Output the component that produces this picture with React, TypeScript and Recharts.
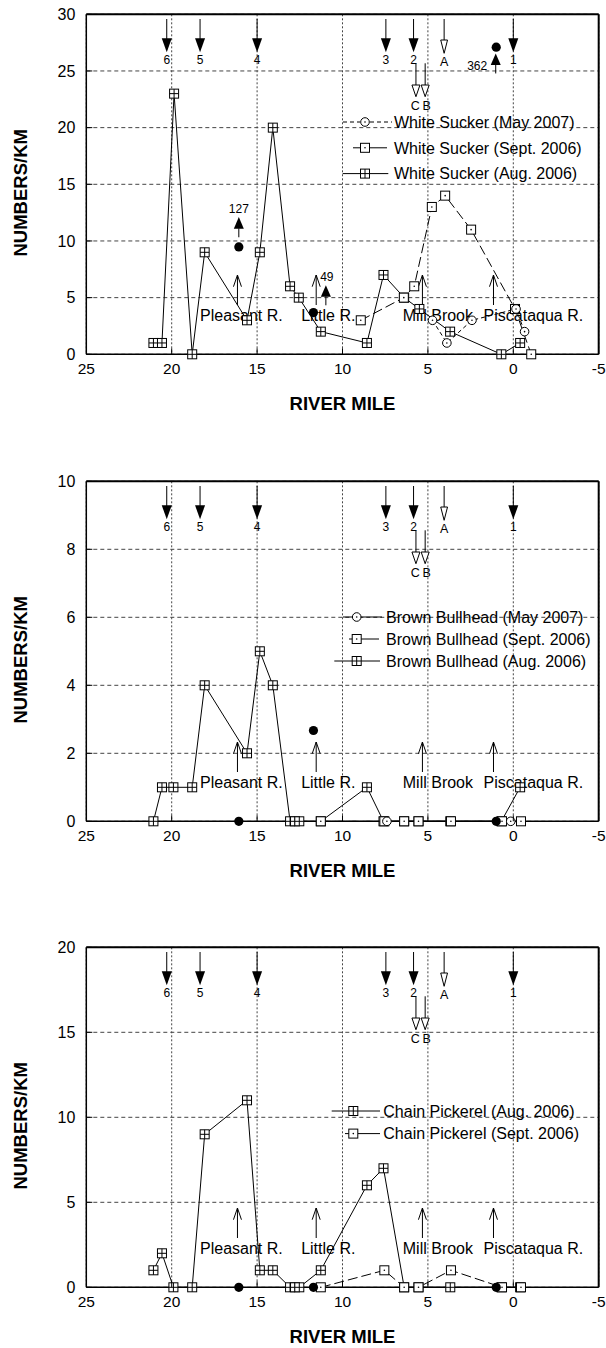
import React from 'react';
import {
  ComposedChart,
  Line,
  XAxis,
  YAxis,
  CartesianGrid,
  ReferenceDot,
  ReferenceLine,
  Legend,
} from 'recharts';

const FONT = 'Arial, "Liberation Sans", Helvetica, sans-serif';

// ---------------- DATA ----------------
const mileTicks = [25, 20, 15, 10, 5, 0, -5];
const yTicksWS = [0, 5, 10, 15, 20, 25, 30];
const yTicksBB = [0, 2, 4, 6, 8, 10];
const yTicksCP = [0, 5, 10, 15, 20];

// White Sucker
const wsAugMiles = [21.07, 20.57, 19.86, 18.8, 18.07, 15.59, 14.84, 14.08, 13.07, 12.56, 11.27, 8.57, 7.6, 6.39, 5.5, 3.7, 0.7, -0.4];
const wsAug = [1, 1, 23, 0, 9, 3, 9, 20, 6, 5, 2, 1, 7, 5, 4, 2, 0, 1];
const wsSeptMiles = [8.93, 6.41, 5.8, 4.77, 3.99, 2.47, -0.1, -1.05];
const wsSept = [3, 5, 6, 13, 14, 11, 4, 0];
const wsMayMiles = [4.73, 3.89, 2.42, -0.16, -0.66];
const wsMay = [3, 1, 3, 4, 2];

// Brown Bullhead / Chain Pickerel (August sites)
const augMiles = [21.07, 20.57, 19.9, 18.8, 18.07, 15.59, 14.84, 14.08, 13.07, 12.78, 12.53, 11.27, 8.57, 7.6, 6.39, 5.55, 3.69, 0.7, -0.4];
const bbAug = [0, 1, 1, 1, 4, 2, 5, 4, 0, 0, 0, 0, 1, 0, 0, 0, 0, 0, 1];
const cpAug = [1, 2, 0, 0, 9, 11, 1, 1, 0, 0, 0, 1, 6, 7, 0, 0, 0, 0, 0];
const septMiles = [11.27, 7.55, 6.39, 5.55, 3.65, 0.66, -0.45];
const bbSept = [0, 0, 0, 0, 0, 0, 0];
const cpSept = [0, 1, 0, 0, 1, 0, 0];
const bbMayMiles = [7.4, 0.15];
const bbMay = [0, 0];

// filled symbols (off-survey counts)
const extraMiles = [16.07, 11.7, 1.0];
const wsExtra = [9.47, 3.68, 27.1];
const bbExtra = [0, 2.67, 0];
const cpExtra = [0, 0, 0];
const wsOffscale = ['127', '49', '362'];

// sites / tributaries
const stationLabels = ['6', '5', '4', '3', '2', '1'];
const stationMiles = [20.29, 18.34, 15.0, 7.46, 5.84, 0.0];
const openStationLabels = ['A', 'C', 'B'];
const openStationMiles = [4.05, 5.7, 5.16];
const tribNames = ['Pleasant R.', 'Little R.', 'Mill Brook', 'Piscataqua R.'];
const tribMiles = [16.15, 11.54, 5.32, 1.16];
const tribTextMiles = [18.34, 12.42, 6.47, 1.74];

// ---------------- helpers ----------------
const toPts = (ms: number[], vs: number[]) => ms.map((m, i) => ({ m, v: vs[i] }));

const gridSq = (cx: number, cy: number, k?: any) => {
  const s = 4.5;
  return (
    <g key={k}>
      <rect x={cx - s} y={cy - s} width={2 * s} height={2 * s} fill="#fff" stroke="#000" strokeWidth={1} />
      <line x1={cx} y1={cy - s} x2={cx} y2={cy + s} stroke="#000" strokeWidth={1} />
      <line x1={cx - s} y1={cy} x2={cx + s} y2={cy} stroke="#000" strokeWidth={1} />
    </g>
  );
};
const dotSq = (cx: number, cy: number, k?: any) => {
  const s = 4.5;
  return (
    <g key={k}>
      <rect x={cx - s} y={cy - s} width={2 * s} height={2 * s} fill="#fff" stroke="#000" strokeWidth={1} />
      <circle cx={cx} cy={cy} r={0.8} fill="#000" />
    </g>
  );
};
const dotCirc = (cx: number, cy: number, k?: any) => (
  <g key={k}>
    <circle cx={cx} cy={cy} r={4.3} fill="#fff" stroke="#000" strokeWidth={1} />
    <circle cx={cx} cy={cy} r={0.8} fill="#000" />
  </g>
);
const filledCirc = (cx: number, cy: number, k?: any) => (
  <circle key={k} cx={cx} cy={cy} r={4.6} fill="#000" />
);

const markerFns: Record<string, any> = { aug: gridSq, sept: dotSq, may: dotCirc, extra: filledCirc };
const makeDot = (kind: string) => (p: any) => {
  const { cx, cy, index } = p;
  if (cx == null || cy == null || isNaN(cx) || isNaN(cy)) return <g key={`n${index}`} />;
  return markerFns[kind](cx, cy, `${kind}${index}`);
};

const LeftTick = (p: any) => {
  const { x, y, payload } = p;
  return (
    <g>
      <line x1={x} y1={y} x2={x + 6} y2={y} stroke="#000" strokeWidth={1} />
      <text x={x - 11} y={y + 5.7} textAnchor="end" fontSize={16} fontFamily={FONT} fill="#000">
        {payload.value}
      </text>
    </g>
  );
};
const RightTick = (p: any) => {
  const { x, y } = p;
  return <line x1={x - 6} y1={y} x2={x} y2={y} stroke="#000" strokeWidth={1} />;
};
const XTick = (p: any) => {
  const { x, y, payload } = p;
  const v = payload.value;
  return (
    <g>
      {v !== 25 && v !== -5 && <line x1={x} y1={y} x2={x} y2={y - 6} stroke="#000" strokeWidth={1} />}
      <text x={x} y={y + 19.8} textAnchor="middle" fontSize={15.5} fontFamily={FONT} fill="#000">
        {String(v)}
      </text>
    </g>
  );
};
const XLabel = (p: any) => {
  const vb = p.viewBox || {};
  return (
    <text x={vb.x + vb.width / 2} y={vb.y + 56} textAnchor="middle" fontSize={18.5} fontWeight="bold" fontFamily={FONT} fill="#000">
      RIVER MILE
    </text>
  );
};
const YLabel = (p: any) => {
  const vb = p.viewBox || {};
  const cx = vb.x + 26.6;
  const cy = vb.y + vb.height / 2 + 8.5;
  return (
    <text x={cx} y={cy} transform={`rotate(-90, ${cx}, ${cy})`} textAnchor="middle" fontSize={18.5} fontWeight="bold" fontFamily={FONT} fill="#000">
      NUMBERS/KM
    </text>
  );
};

// station arrows (drawn from plot top)
const StationShape = (label: string) => (p: any) => {
  const { cx, cy } = p;
  return (
    <g>
      <line x1={cx} y1={cy + 4.7} x2={cx} y2={cy + 25} stroke="#000" strokeWidth={1} />
      <polygon points={`${cx - 5},${cy + 24} ${cx + 5},${cy + 24} ${cx},${cy + 38}`} fill="#000" />
      <text x={cx} y={cy + 50} textAnchor="middle" fontSize={12} fontFamily={FONT} fill="#000">{label}</text>
    </g>
  );
};
const OpenStationShape = (label: string, row: number) => (p: any) => {
  const { cx, cy } = p;
  const t0 = row === 0 ? 4.7 : 49;
  const t1 = row === 0 ? 25.7 : 70.7;
  const t2 = row === 0 ? 39 : 82.4;
  const w = row === 0 ? 3.4 : 4;
  const ly = row === 0 ? 51.6 : 96;
  const lx = label === 'B' ? cx + 1.5 : label === 'C' ? cx - 0.7 : cx;
  return (
    <g>
      <line x1={cx} y1={cy + t0} x2={cx} y2={cy + t1} stroke="#000" strokeWidth={1} />
      <polygon points={`${cx - w},${cy + t1} ${cx + w},${cy + t1} ${cx},${cy + t2}`} fill="#fff" stroke="#000" strokeWidth={1} />
      <text x={lx} y={cy + ly} textAnchor="middle" fontSize={12.5} fontFamily={FONT} fill="#000">{label}</text>
    </g>
  );
};
const TribArrowShape = (p: any) => {
  const { cx, cy } = p;
  return (
    <g>
      <line x1={cx} y1={cy - 49.3} x2={cx} y2={cy - 79.3} stroke="#000" strokeWidth={1} />
      <polyline points={`${cx - 4},${cy - 67.6} ${cx},${cy - 79.3} ${cx + 4},${cy - 67.6}`} fill="none" stroke="#000" strokeWidth={1} />
    </g>
  );
};
const TribTextShape = (name: string) => (p: any) => {
  const { cx, cy } = p;
  return (
    <text x={cx} y={cy - 33} textAnchor="start" fontSize={16} fontFamily={FONT} fill="#000">{name}</text>
  );
};
const upArrow = (bx: number, by: number, tipDy: number) => (
  <g>
    <line x1={bx} y1={by} x2={bx} y2={by - 9} stroke="#000" strokeWidth={1} />
    <polygon points={`${bx - 5},${by - 8.5} ${bx + 5},${by - 8.5} ${bx},${by - tipDy}`} fill="#000" />
  </g>
);
const FlagShape = (text: string, i: number) => (p: any) => {
  const { cx, cy } = p;
  if (i === 0) {
    return (
      <g>
        {upArrow(cx, cy - 9.7, 20.3)}
        <text x={cx} y={cy - 34.1} textAnchor="middle" fontSize={12} fontFamily={FONT} fill="#000">{text}</text>
      </g>
    );
  }
  if (i === 1) {
    return (
      <g>
        {upArrow(cx + 12.4, cy - 7.3, 20)}
        <text x={cx + 13.4} y={cy - 31.3} textAnchor="middle" fontSize={12} fontFamily={FONT} fill="#000">{text}</text>
      </g>
    );
  }
  return (
    <g>
      {upArrow(cx - 0.5, cy + 26.3, 20)}
      <text x={cx - 9} y={cy + 22.6} textAnchor="end" fontSize={12} fontFamily={FONT} fill="#000">{text}</text>
    </g>
  );
};

// ---------------- legend ----------------
type LegendRow = { label: string; kind: string; segs: number[][]; dash?: string };
type LegendCfg = { rows: LegendRow[]; firstY: number; spacing: number; markerX: number; textX: number };

const LegendBox = ({ cfg, ox, oy }: { cfg: LegendCfg; ox: number; oy: number }) => {
  const h = cfg.rows.length * cfg.spacing + 30;
  return (
    <svg width={606 - ox} height={h} style={{ display: 'block', overflow: 'visible' }}>
      {cfg.rows.map((r, i) => {
        const cy = cfg.firstY + i * cfg.spacing - oy;
        return (
          <g key={i}>
            {r.segs.map((s, j) => (
              <line key={j} x1={s[0] - ox} y1={cy} x2={s[1] - ox} y2={cy} stroke="#000" strokeWidth={1} strokeDasharray={r.dash} />
            ))}
            {markerFns[r.kind](cfg.markerX - ox, cy, `lm${i}`)}
            <text x={cfg.textX - ox} y={cy + 5.7} fontSize={16} fontFamily={FONT} fill="#000">{r.label}</text>
          </g>
        );
      })}
    </svg>
  );
};

// ---------------- panels ----------------
type Series = { kind: string; pts: { m: number; v: number }[]; dash?: string };
type PanelCfg = {
  yMax: number;
  yTicks: number[];
  series: Series[];
  extras: { m: number; v: number }[];
  flags: boolean;
  legend: LegendCfg;
};

const panels: PanelCfg[] = [
  {
    yMax: 30,
    yTicks: yTicksWS,
    series: [
      { kind: 'aug', pts: toPts(wsAugMiles, wsAug) },
      { kind: 'sept', pts: toPts(wsSeptMiles, wsSept), dash: '10 4' },
      { kind: 'may', pts: toPts(wsMayMiles, wsMay), dash: '4 3' },
    ],
    extras: toPts(extraMiles, wsExtra),
    flags: true,
    legend: {
      firstY: 121.7,
      spacing: 25.8,
      markerX: 365,
      textX: 394,
      rows: [
        { label: 'White Sucker (May 2007)', kind: 'may', segs: [[343, 360], [370, 392]], dash: '4 3' },
        { label: 'White Sucker (Sept. 2006)', kind: 'sept', segs: [[353, 361], [370, 387]] },
        { label: 'White Sucker (Aug. 2006)', kind: 'aug', segs: [[342.7, 388.3]] },
      ],
    },
  },
  {
    yMax: 10,
    yTicks: yTicksBB,
    series: [
      { kind: 'aug', pts: toPts(augMiles, bbAug) },
      { kind: 'sept', pts: toPts(septMiles, bbSept), dash: '10 4' },
      { kind: 'may', pts: toPts(bbMayMiles, bbMay) },
    ],
    extras: toPts(extraMiles, bbExtra),
    flags: false,
    legend: {
      firstY: 150,
      spacing: 22,
      markerX: 356.7,
      textX: 386,
      rows: [
        { label: 'Brown Bullhead (May 2007)', kind: 'may', segs: [[343, 382]] },
        { label: 'Brown Bullhead (Sept. 2006)', kind: 'sept', segs: [[349, 353], [361, 379]] },
        { label: 'Brown Bullhead (Aug. 2006)', kind: 'aug', segs: [[334.3, 380]] },
      ],
    },
  },
  {
    yMax: 20,
    yTicks: yTicksCP,
    series: [
      { kind: 'aug', pts: toPts(augMiles, cpAug) },
      { kind: 'sept', pts: toPts(septMiles, cpSept), dash: '10 4' },
    ],
    extras: toPts(extraMiles, cpExtra),
    flags: false,
    legend: {
      firstY: 177.4,
      spacing: 22.6,
      markerX: 353.3,
      textX: 383.3,
      rows: [
        { label: 'Chain Pickerel (Aug. 2006)', kind: 'aug', segs: [[331.7, 380]] },
        { label: 'Chain Pickerel (Sept. 2006)', kind: 'sept', segs: [[345, 349], [358, 380]] },
      ],
    },
  },
];

const W = 606;
const H = 414;
const PLOT_TOP = 14.3;
const PLOT_H = 340;
const Y_AXIS_W = 86.3;
const RIGHT_W = 7.3;
const X_AXIS_H = H - PLOT_TOP - PLOT_H;
const STEP = 466.67;

const Panel = ({ cfg }: { cfg: PanelCfg }) => {
  const lox = 320;
  const loy = cfg.legend.firstY - 16;
  return (
    <ComposedChart width={W} height={H} margin={{ top: PLOT_TOP, right: 0, bottom: 0, left: 0 }}>
      <CartesianGrid horizontal vertical={false} stroke="#444" strokeDasharray="4 3" strokeWidth={1} />
      <CartesianGrid horizontal={false} vertical stroke="#444" strokeDasharray="2 2" strokeWidth={1} />
      <XAxis
        type="number"
        dataKey="m"
        domain={[-5, 25]}
        reversed
        ticks={mileTicks}
        interval={0}
        height={X_AXIS_H}
        axisLine={{ stroke: '#000', strokeWidth: 1.5 }}
        tickLine={false}
        tickSize={0}
        tickMargin={0}
        tick={XTick}
        label={{ content: XLabel }}
      />
      <YAxis
        type="number"
        domain={[0, cfg.yMax]}
        ticks={cfg.yTicks}
        interval={0}
        width={Y_AXIS_W}
        axisLine={{ stroke: '#000', strokeWidth: 1.5 }}
        tickLine={false}
        tickSize={0}
        tickMargin={0}
        tick={LeftTick}
        label={{ content: YLabel }}
      />
      <YAxis
        yAxisId="r"
        orientation="right"
        type="number"
        domain={[0, cfg.yMax]}
        ticks={cfg.yTicks}
        interval={0}
        width={RIGHT_W}
        axisLine={{ stroke: '#000', strokeWidth: 2 }}
        tickLine={false}
        tickSize={0}
        tickMargin={0}
        tick={RightTick}
      />
      <ReferenceLine y={cfg.yMax} stroke="#000" strokeWidth={2} />
      {tribMiles.map((m, i) => (
        <ReferenceDot key={`ta${i}`} x={m} y={0} r={1} ifOverflow="visible" shape={TribArrowShape} />
      ))}
      {tribTextMiles.map((m, i) => (
        <ReferenceDot key={`tt${i}`} x={m} y={0} r={1} ifOverflow="visible" shape={TribTextShape(tribNames[i])} />
      ))}
      {stationMiles.map((m, i) => (
        <ReferenceDot key={`st${i}`} x={m} y={cfg.yMax} r={1} ifOverflow="visible" shape={StationShape(stationLabels[i])} />
      ))}
      {openStationMiles.map((m, i) => (
        <ReferenceDot key={`os${i}`} x={m} y={cfg.yMax} r={1} ifOverflow="visible" shape={OpenStationShape(openStationLabels[i], i === 0 ? 0 : 1)} />
      ))}
      {cfg.series.map((s, i) => (
        <Line
          key={`s${i}`}
          data={s.pts}
          dataKey="v"
          stroke="#000"
          strokeWidth={1}
          strokeDasharray={s.dash}
          dot={makeDot(s.kind)}
          activeDot={false}
          isAnimationActive={false}
          legendType="none"
        />
      ))}
      <Line
        data={cfg.extras}
        dataKey="v"
        stroke="none"
        dot={makeDot('extra')}
        activeDot={false}
        isAnimationActive={false}
        legendType="none"
      />
      {cfg.flags &&
        wsOffscale.map((t, i) => (
          <ReferenceDot key={`fl${i}`} x={extraMiles[i]} y={wsExtra[i]} r={1} ifOverflow="visible" shape={FlagShape(t, i)} />
        ))}
      <Legend
        layout="horizontal"
        verticalAlign="middle"
        align="center"
        wrapperStyle={{ left: lox, top: loy, width: W - lox, height: cfg.legend.rows.length * cfg.legend.spacing + 30 }}
        content={() => <LegendBox cfg={cfg.legend} ox={lox} oy={loy} />}
      />
    </ComposedChart>
  );
};

export default function App() {
  return (
    <div style={{ position: 'absolute', left: 0, top: 0, width: 606, height: 1348, overflow: 'hidden', background: '#fff' }}>
      {panels.map((p, i) => (
        <div key={i} style={{ position: 'absolute', left: 0, top: i * STEP, width: W, height: H }}>
          <Panel cfg={p} />
        </div>
      ))}
    </div>
  );
}
